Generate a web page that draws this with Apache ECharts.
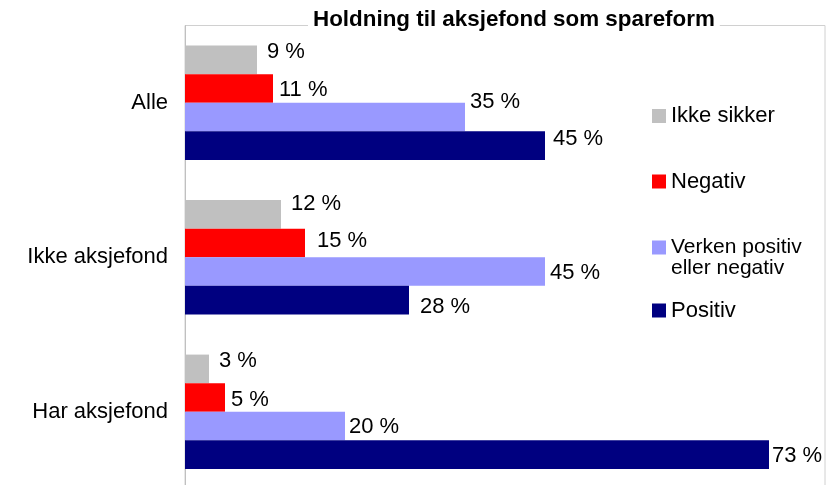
<!DOCTYPE html>
<html>
<head>
<meta charset="utf-8">
<script src="https://cdn.jsdelivr.net/npm/echarts@6/dist/echarts.min.js"></script>
<style>html,body{margin:0;padding:0;background:#fff}#c{width:834px;height:485px}</style>
</head>
<body>
<div id="c"></div>
<script>
const categories = ['Alle', 'Ikke aksjefond', 'Har aksjefond'];
const seriesNames = ['Ikke sikker', 'Negativ', 'Verken positiv eller negativ', 'Positiv'];
const ikkeSikker = [9, 12, 3];
const negativ = [11, 15, 5];
const verken = [35, 45, 20];
const positiv = [45, 28, 73];

const colors = ['#C0C0C0', '#FF0000', '#9999FF', '#000080'];
// label offsets (style only), per series per category
const labelOffsets = [
  [[10, -8], [10, -10], [10, -8]],
  [[6, 1], [12, -2], [6, 2]],
  [[5, -15], [5, 1], [4, 1]],
  [[8, -7], [11, 7], [3, 1]]
];
const FONT = '"Liberation Sans", Arial, sans-serif';
const FS = 22;
const values = [ikkeSikker, negativ, verken, positiv];

const series = values.map((vals, si) => ({
  name: seriesNames[si],
  type: 'bar',
  barGap: '0%',
  barCategoryGap: '26%',
  itemStyle: { color: colors[si] },
  data: vals.map((v, ci) => ({
    value: v,
    label: { offset: labelOffsets[si][ci] }
  })),
  label: {
    show: true, position: 'right', distance: 0,
    formatter: p => p.value + ' %',
    color: '#000', fontSize: FS, fontFamily: FONT
  },
  emphasis: { disabled: true }
}));

const legendTops = [105, 170.5, 216, 299.5];
const legends = seriesNames.map((n, i) => {
  const lg = {
    data: [n], left: 652, top: legendTops[i], padding: 0,
    itemWidth: 14, itemHeight: 14, icon: 'rect',
    selectedMode: false,
    textStyle: { fontSize: FS, fontFamily: FONT, color: '#000', lineHeight: 22 }
  };
  if (i === 2) {
    lg.formatter = () => '\u00a0\nVerken positiv\neller negativ';
    lg.textStyle = { fontSize: 21, fontFamily: FONT, color: '#000', lineHeight: 21 };
  }
  return lg;
});

const chart = echarts.init(document.getElementById('c'), null, { renderer: 'canvas' });
chart.setOption({
  animation: false,
  backgroundColor: '#fff',
  title: {
    text: 'Holdning til aksjefond som spareform',
    left: 308, top: 7,
    backgroundColor: '#fff',
    padding: [2, 5],
    textStyle: { fontSize: 22.4, fontWeight: 'bold', fontFamily: FONT, color: '#000' }
  },
  legend: legends,
  grid: {
    left: 185, right: 9, top: 25.5, height: 463.5,
    outerBoundsMode: 'none',
    show: true, borderColor: '#d0d0d0', borderWidth: 1, backgroundColor: 'transparent'
  },
  xAxis: {
    type: 'value', min: 0, max: 80, interval: 10,
    axisLabel: { show: false }, splitLine: { show: false },
    axisLine: { show: false }, axisTick: { show: false }
  },
  yAxis: {
    type: 'category', data: categories, inverse: true,
    axisLine: { show: true, lineStyle: { color: '#c0c0c0', width: 1 } },
    axisTick: { show: false },
    axisLabel: { fontSize: FS, fontFamily: FONT, color: '#000', margin: 17 }
  },
  series: series
});
</script>
</body>
</html>
